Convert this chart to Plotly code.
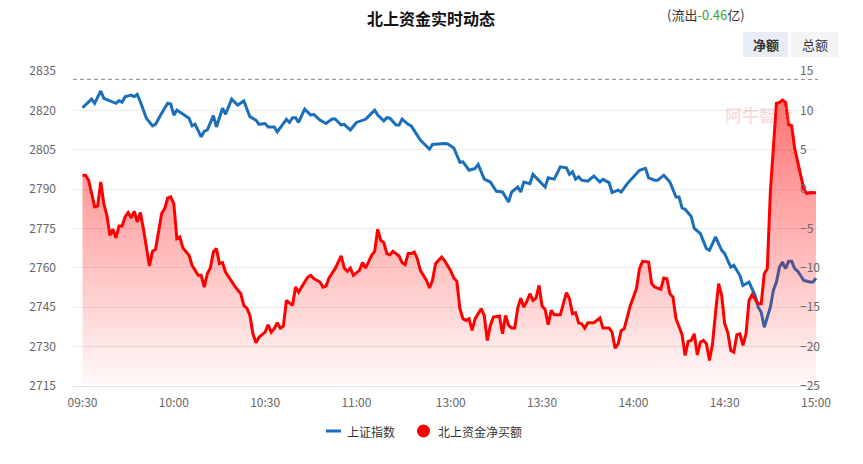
import plotly.graph_objects as go

# ---------------- data ----------------
# minute index within the trading session (0 = 09:30, 120 = 11:30, 121 = 13:00, 241 = 15:00)
tick_pos = [0, 30, 60, 90, 121, 151, 181, 211, 241]
tick_labels = ["09:30", "10:00", "10:30", "11:00", "13:00", "13:30", "14:00", "14:30", "15:00"]

left_ticks = [2715, 2730, 2745, 2760, 2775, 2790, 2805, 2820, 2835]
right_ticks = [-25, -20, -15, -10, -5, 0, 5, 10, 15]
ref_level = 2831.8  # dashed reference line (index)

sh_idx = [0, 3, 4, 5, 6, 7, 11, 12, 13, 14, 16, 17, 18, 19, 21, 23, 24, 26, 28, 29, 30, 31, 33, 35, 36, 37,
          39, 40, 41, 43, 44, 46, 47, 48, 49, 51, 53, 55, 57, 58, 60, 61, 63, 64, 67, 68, 69, 70, 71, 73, 75,
          76, 78, 80, 82, 83, 85, 86, 88, 90, 93, 96, 97, 99, 100, 101, 103, 104, 105, 107, 108, 111, 113,
          114, 115, 119, 120, 122, 124, 125, 127, 129, 130, 132, 134, 136, 138, 140, 141, 143, 144, 145, 147,
          148, 152, 153, 155, 157, 159, 160, 161, 162, 163, 164, 166, 168, 170, 171, 173, 174, 176, 177, 179,
          181, 183, 185, 186, 188, 189, 191, 193, 195, 196, 197, 198, 200, 201, 203, 204, 205, 206, 208, 210,
          211, 213, 214, 216, 217, 219, 221, 222, 223, 224, 226, 227, 228, 229, 230, 231, 232, 233, 234, 235,
          237, 239, 240, 241]
sh_val = [2821.0, 2824.3, 2822.7, 2825.2, 2827.4, 2824.6, 2822.7, 2823.7, 2823.1, 2825.2, 2825.8, 2825.2,
          2826.1, 2823.3, 2817.0, 2814.1, 2814.7, 2818.9, 2822.7, 2822.4, 2818.2, 2820.1, 2818.5, 2817.0,
          2814.1, 2814.7, 2809.9, 2812.1, 2812.5, 2818.0, 2813.7, 2820.8, 2818.5, 2821.4, 2824.3, 2822.0,
          2823.6, 2817.6, 2816.3, 2814.7, 2815.0, 2813.7, 2813.7, 2811.8, 2816.6, 2815.4, 2817.2, 2817.2,
          2815.4, 2820.5, 2818.2, 2818.5, 2816.3, 2815.0, 2816.7, 2816.7, 2814.4, 2814.7, 2812.5, 2815.4,
          2816.6, 2820.1, 2818.2, 2816.0, 2817.2, 2817.0, 2814.4, 2814.4, 2816.7, 2814.7, 2814.1, 2808.7,
          2806.1, 2805.2, 2807.0, 2807.4, 2807.2, 2805.7, 2800.2, 2800.4, 2797.2, 2797.9, 2799.4, 2793.8,
          2792.7, 2789.2, 2788.9, 2785.1, 2788.9, 2790.8, 2788.9, 2792.7, 2792.1, 2795.6, 2790.8, 2794.3,
          2793.8, 2798.5, 2798.1, 2795.6, 2796.6, 2793.8, 2794.7, 2793.4, 2793.0, 2795.0, 2792.7, 2793.7,
          2792.5, 2788.7, 2789.6, 2788.9, 2792.1, 2794.7, 2797.2, 2797.9, 2794.3, 2793.4, 2793.4, 2795.3,
          2792.7, 2787.0, 2787.0, 2782.8, 2782.3, 2779.6, 2775.0, 2773.1, 2770.5, 2767.3, 2766.7, 2771.8,
          2766.7, 2765.4, 2760.3, 2761.0, 2757.1, 2753.3, 2754.6, 2749.5, 2745.0, 2743.1, 2737.4, 2745.0,
          2751.4, 2754.6, 2760.3, 2762.2, 2759.7, 2762.5, 2762.5, 2759.7, 2758.7, 2755.2, 2754.6, 2754.6,
          2756.1]

nb_idx = [0, 1, 2, 3, 4, 5, 6, 7, 8, 9, 10, 11, 12, 13, 14, 15, 16, 17, 18, 19, 20, 22, 23, 24, 26, 27, 28,
          29, 30, 31, 32, 33, 35, 36, 38, 39, 40, 41, 42, 43, 44, 45, 46, 47, 49, 50, 52, 53, 54, 55, 56, 57,
          58, 60, 61, 62, 63, 64, 65, 66, 67, 69, 70, 71, 73, 74, 75, 76, 78, 79, 80, 81, 83, 84, 85, 86, 87,
          88, 89, 91, 92, 93, 95, 96, 97, 98, 99, 100, 101, 102, 104, 105, 106, 107, 108, 109, 110, 111, 112,
          113, 114, 115, 116, 118, 119, 120, 121, 122, 123, 124, 125, 126, 127, 128, 129, 131, 132, 133, 134,
          135, 137, 138, 139, 140, 141, 142, 143, 144, 145, 146, 147, 148, 149, 150, 151, 152, 153, 154, 155,
          157, 158, 159, 160, 161, 162, 163, 164, 165, 166, 168, 170, 171, 173, 174, 175, 176, 177, 178, 180,
          182, 183, 184, 186, 187, 188, 190, 191, 192, 193, 194, 195, 197, 198, 199, 200, 201, 202, 203, 204,
          205, 206, 207, 208, 209, 210, 211, 212, 213, 214, 215, 216, 217, 218, 219, 220, 222, 223, 224, 225,
          226, 228, 229, 230, 231, 232, 233, 234, 236, 237, 238, 239, 241]
nb_val = [1.77, 1.77, 1.13, -0.77, -2.26, -2.13, 0.92, -1.83, -3.32, -5.86, -5.10, -6.2, -4.68, -4.68, -3.53,
          -2.97, -3.66, -2.81, -4.17, -2.97, -5.01, -9.77, -7.9, -7.64, -3.1, -2.47, -1.12, -0.99, -1.83,
          -6.28, -6.08, -7.48, -8.4, -9.68, -10.95, -10.95, -12.44, -10.74, -10.02, -7.99, -7.55, -9.46,
          -9.33, -10.53, -11.8, -12.31, -13.28, -14.77, -15.11, -16.04, -18.37, -19.51, -18.8, -18.16,
          -17.22, -18.16, -17.73, -16.97, -17.65, -17.4, -14.13, -14.77, -12.44, -13.07, -11.8, -11.17,
          -10.95, -11.37, -11.8, -12.44, -12.31, -11.29, -10.1, -9.3, -8.49, -10.02, -10.44, -10.02, -10.95,
          -10.31, -9.33, -10.02, -8.4, -7.9, -5.1, -6.5, -6.79, -8.19, -8.32, -7.9, -8.49, -9.33, -9.59,
          -8.19, -8.19, -7.99, -8.83, -10.31, -11.04, -11.58, -12.56, -11.58, -9.46, -8.62, -9.1, -9.7,
          -10.4, -11.29, -11.71, -15.18, -16.45, -16.67, -16.45, -17.94, -16.45, -15.18, -16.04, -19.22,
          -17.31, -16.25, -16.1, -18.37, -16.04, -17.31, -17.65, -17.65, -15.11, -13.84, -14.99, -14.26,
          -13.28, -14.13, -13.84, -12.22, -14.85, -15.27, -17.22, -15.4, -15.95, -15.95, -14.55, -13.15,
          -13.91, -15.82, -15.69, -16.97, -17.09, -17.65, -16.97, -16.97, -16.38, -17.65, -17.65, -18.16,
          -20.2, -19.64, -17.94, -17.73, -14.77, -12.64, -10.1, -9.17, -9.26, -12.0, -12.44, -12.73, -11.29,
          -11.37, -13.28, -13.71, -16.45, -18.49, -21.12, -19.34, -19.22, -18.37, -21.04, -19.43, -19.22,
          -19.64, -21.76, -19.64, -15.62, -12.0, -13.49, -17.09, -18.16, -20.49, -20.71, -18.49, -18.37,
          -19.85, -18.4, -14.13, -13.41, -14.55, -14.55, -10.74, -10.1, -0.35, 10.89, 11.02, 11.31, 11.02,
          8.22, 8.04, 5.17, 1.86, -0.01, -0.56, -0.43, -0.46]

# ---------------- layout helpers (pixel -> paper) ----------------
W, H = 863, 464
L, R, T, B = 73, 818, 71, 386


def px(x):
    return (x - L) / (R - L)


def py(y):
    return (B - y) / (B - T)


BLUE = "#1a6fbd"
RED = "#ff0000"
FONT = "Noto Sans CJK SC"

fig = go.Figure()

# baseline for the gradient area (bottom of right axis)
fig.add_trace(go.Scatter(x=nb_idx, y=[right_ticks[0]] * len(nb_idx), yaxis="y2", mode="lines",
                         line=dict(width=0, color="rgba(0,0,0,0)"), showlegend=False, hoverinfo="skip"))
fig.add_trace(go.Scatter(
    x=nb_idx, y=nb_val, yaxis="y2", mode="lines", name="北上资金净买额",
    line=dict(color=RED, width=3), fill="tonexty",
    fillgradient=dict(type="vertical", start=right_ticks[0], stop=max(nb_val),
                      colorscale=[[0, "rgba(255,0,0,0.02)"], [1, "rgba(255,0,0,0.55)"]]),
    showlegend=False))
fig.add_trace(go.Scatter(x=sh_idx, y=sh_val, mode="lines", name="上证指数",
                         line=dict(color=BLUE, width=3), showlegend=False))

xr = [-(82.5 - L) / 3.0436, 241 + (R - 816) / 3.0436]

fig.update_layout(
    width=W, height=H, margin=dict(l=L, r=W - R, t=T, b=H - B),
    paper_bgcolor="white", plot_bgcolor="white",
    font=dict(family=FONT, size=12, color="#666"),
    xaxis=dict(range=xr, tickvals=tick_pos, ticktext=tick_labels, showgrid=False, zeroline=False,
               showline=True, linecolor="#e0e0e0", linewidth=1, ticks="", ticklabelstandoff=6,
               tickfont=dict(size=12, color="#666")),
    yaxis=dict(range=[left_ticks[0], left_ticks[-1]], tickvals=left_ticks, showgrid=True,
               gridcolor="#ebebeb", gridwidth=1, zeroline=False, showline=False, ticks="",
               ticklabelstandoff=16, tickfont=dict(size=12, color="#666")),
    yaxis2=dict(range=[right_ticks[0], right_ticks[-1]], tickvals=right_ticks, overlaying="y",
                side="right", anchor="free", position=px(797), showgrid=False, zeroline=False,
                showline=False, ticks="", ticklabelstandoff=2, tickfont=dict(size=12, color="#666")),
    showlegend=False,
)

shapes = [
    dict(type="line", xref="paper", yref="y", x0=0, x1=1, y0=ref_level, y1=ref_level,
         line=dict(color="#8c8c8c", width=1, dash="4px,3px")),
    dict(type="rect", xref="paper", yref="paper", x0=px(743), x1=px(788), y0=py(57), y1=py(32),
         fillcolor="#e8ecf5", line=dict(width=0), layer="below"),
    dict(type="rect", xref="paper", yref="paper", x0=px(791), x1=px(838), y0=py(57), y1=py(32),
         fillcolor="#f4f4f4", line=dict(width=0), layer="below"),
    dict(type="line", xref="paper", yref="paper", x0=px(326), x1=px(341), y0=py(431), y1=py(431),
         line=dict(color=BLUE, width=3)),
    dict(type="circle", xref="paper", yref="paper", x0=px(417), x1=px(430), y0=py(437.5), y1=py(424.5),
         fillcolor=RED, line=dict(width=0)),
]
fig.update_layout(shapes=shapes)

ann = [
    dict(text="<b>北上资金实时动态</b>", x=px(431), y=py(18), xanchor="center", yanchor="middle",
         font=dict(size=16, color="#111", family=FONT)),
    dict(text="(流出<span style='color:#3aa03a'>-0.46</span>亿)", x=px(665), y=py(15), xanchor="left",
         yanchor="middle", font=dict(size=13, color="#333", family=FONT)),
    dict(text="<b>净额</b>", x=px(765.5), y=py(44.5), xanchor="center", yanchor="middle",
         font=dict(size=13, color="#333", family=FONT)),
    dict(text="总额", x=px(814.5), y=py(44.5), xanchor="center", yanchor="middle",
         font=dict(size=13, color="#333", family=FONT)),
    dict(text="上证指数", x=px(345), y=py(431), xanchor="left", yanchor="middle",
         font=dict(size=12, color="#333", family=FONT)),
    dict(text="北上资金净买额", x=px(436), y=py(431), xanchor="left", yanchor="middle",
         font=dict(size=12, color="#333", family=FONT)),
    dict(text="<b>阿牛智投</b>", x=px(759), y=py(115), xanchor="center", yanchor="middle",
         font=dict(size=17, color="rgba(235,140,140,0.28)", family=FONT)),
]
for a in ann:
    a.update(xref="paper", yref="paper", showarrow=False)
fig.update_layout(annotations=ann)

fig.write_html("out.html")
